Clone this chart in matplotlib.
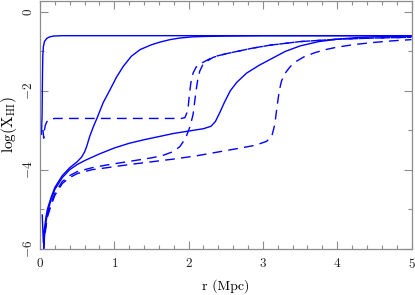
import numpy as np
import matplotlib
matplotlib.use('Agg')
import matplotlib.pyplot as plt
from matplotlib.ticker import MultipleLocator

# radius (Mpc) and log(X_HI)
r_s1 = [0.02, 0.028, 0.031, 0.034, 0.038, 0.045, 0.06, 0.09, 0.13, 0.18, 0.3, 1.0, 2.0, 3.0, 4.0, 5.0]
x_s1 = [-3.1, -2.6, -2.0, -1.5, -1.1, -0.88, -0.75, -0.67, -0.63, -0.61, -0.6, -0.6, -0.6, -0.6, -0.6, -0.6]

r_s2 = [0.03, 0.045, 0.06, 0.08, 0.1, 0.15, 0.2, 0.3, 0.4, 0.5, 0.56, 0.6, 0.63, 0.67, 0.72, 0.77,
        0.85, 0.94, 1.03, 1.12, 1.23, 1.35, 1.5, 1.62, 1.75, 1.88, 2.05, 2.2, 2.5, 3.0, 4.0, 5.0]
x_s2 = [-5.15, -5.85, -5.5, -5.2, -5.0, -4.7, -4.45, -4.15, -3.95, -3.8, -3.68, -3.55, -3.4, -3.15, -2.9, -2.68,
        -2.3, -1.98, -1.65, -1.38, -1.12, -0.95, -0.83, -0.76, -0.7, -0.66, -0.63, -0.62, -0.61, -0.6, -0.6, -0.6]

r_s3 = [0.05, 0.06, 0.08, 0.1, 0.15, 0.2, 0.3, 0.4, 0.5, 0.6, 0.8, 1.0, 1.2, 1.4, 1.6, 1.8, 2.0, 2.2,
        2.3, 2.36, 2.42, 2.48, 2.56, 2.65, 2.78, 2.95, 3.1, 3.3, 3.5, 3.75, 4.0, 4.25, 4.5, 5.0]
x_s3 = [-6.0, -5.7, -5.35, -5.1, -4.75, -4.5, -4.2, -4.0, -3.87, -3.77, -3.6, -3.45, -3.33, -3.24, -3.16, -3.08, -3.02, -2.96,
        -2.9, -2.78, -2.55, -2.3, -2.0, -1.78, -1.55, -1.35, -1.2, -1.0, -0.86, -0.75, -0.69, -0.65, -0.63, -0.61]

r_d1 = [0.04, 0.05, 0.06, 0.07, 0.09, 0.13, 0.2, 0.5, 1.0, 1.5, 1.9, 1.95, 1.99, 2.01, 2.03, 2.06, 2.1,
        2.15, 2.2, 2.33, 2.5, 2.65, 2.85, 3.1, 3.5, 4.0, 4.5, 5.0]
x_d1 = [-3.0, -3.2, -3.0, -2.88, -2.79, -2.72, -2.7, -2.7, -2.7, -2.7, -2.7, -2.68, -2.5, -2.1, -1.8, -1.55, -1.4,
        -1.32, -1.27, -1.14, -1.06, -1.0, -0.92, -0.84, -0.75, -0.69, -0.66, -0.64]

r_d2 = [0.05, 0.06, 0.08, 0.1, 0.15, 0.2, 0.3, 0.4, 0.5, 0.7, 0.9, 1.1, 1.3, 1.5, 1.65, 1.78, 1.88,
        1.96, 2.02, 2.06, 2.08, 2.1, 2.12, 2.15, 2.2, 2.33, 2.5, 2.65, 2.85, 3.1, 3.5, 4.0, 4.5, 5.0]
x_d2 = [-6.0, -5.7, -5.4, -5.15, -4.85, -4.6, -4.3, -4.15, -4.05, -3.95, -3.88, -3.82, -3.76, -3.7, -3.64, -3.55, -3.42,
        -3.2, -2.9, -2.6, -2.3, -2.0, -1.75, -1.5, -1.3, -1.15, -1.06, -1.0, -0.92, -0.84, -0.75, -0.69, -0.66, -0.64]

r_d3 = [0.05, 0.06, 0.08, 0.1, 0.15, 0.2, 0.3, 0.4, 0.5, 0.7, 0.9, 1.2, 1.5, 1.8, 2.1, 2.4, 2.7, 2.9, 3.05,
        3.12, 3.16, 3.19, 3.22, 3.25, 3.3, 3.37, 3.45, 3.55, 3.7, 3.85, 4.0, 4.25, 4.5, 4.75, 5.0]
x_d3 = [-6.0, -5.75, -5.45, -5.2, -4.9, -4.65, -4.35, -4.2, -4.1, -4.0, -3.95, -3.87, -3.8, -3.73, -3.65, -3.55, -3.45, -3.38, -3.28,
        -3.15, -2.85, -2.4, -2.0, -1.75, -1.55, -1.38, -1.25, -1.14, -1.03, -0.95, -0.89, -0.82, -0.77, -0.73, -0.7]

plt.rcParams['mathtext.fontset'] = 'cm'
plt.rcParams['font.family'] = 'serif'
plt.rcParams['font.serif'] = ['cmr10', 'DejaVu Serif']
plt.rcParams['axes.formatter.use_mathtext'] = True

fig = plt.figure(figsize=(4.15, 2.95), dpi=100)
ax = fig.add_axes([0.0964, 0.1576, 0.8952, 0.839])

blue = '#0000ff'
lw = 1.0
dash = (7, 4.5)
ax.plot(r_s1, x_s1, color=blue, lw=lw)
ax.plot(r_s2, x_s2, color=blue, lw=lw)
ax.plot(r_s3, x_s3, color=blue, lw=lw)
for r, x in [(r_d1, x_d1), (r_d2, x_d2), (r_d3, x_d3)]:
    ln, = ax.plot(r, x, color=blue, lw=lw)
    ln.set_dashes(dash)

ax.set_xlim(0, 5)
ax.set_ylim(-6, 0.28)
ax.xaxis.set_major_locator(MultipleLocator(1))
ax.xaxis.set_minor_locator(MultipleLocator(0.2))
ax.yaxis.set_major_locator(MultipleLocator(2))
ax.yaxis.set_minor_locator(MultipleLocator(1))

gray = '#8c8c8c'
for s in ax.spines.values():
    s.set_color(gray)
    s.set_linewidth(0.9)
ax.tick_params(which='both', direction='in', top=True, right=True, color=gray,
               labelsize=9.5, labelcolor='#222222')
ax.tick_params(which='major', length=6, width=0.8)
ax.tick_params(which='minor', length=3, width=0.8)
ax.tick_params(axis='x', pad=6)
for t in ax.get_yticklabels():
    t.set_rotation(90)
    t.set_va('center')

ax.set_xlabel(r'r (Mpc)', fontsize=10, labelpad=6)
ax.set_ylabel(r'$\mathrm{log(X_{HI})}$', fontsize=11, labelpad=2)

fig.savefig('out.png', dpi=100)
